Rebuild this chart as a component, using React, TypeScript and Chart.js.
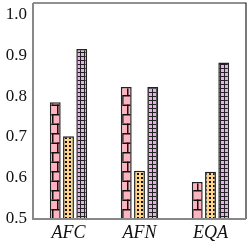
import React, { useEffect, useRef } from "react";
import { Chart, registerables } from "chart.js";

Chart.register(...registerables);

const categories = ["AFC", "AFN", "EQA"];
const seriesA = [0.785, 0.822, 0.59];
const seriesB = [0.702, 0.618, 0.615];
const seriesC = [0.915, 0.822, 0.882];
const yTicks = [0.5, 0.6, 0.7, 0.8, 0.9, 1.0];

function makePattern(kind: string, bg: string): CanvasPattern | string {
  const c = document.createElement("canvas");
  const ctx = c.getContext("2d");
  if (!ctx) return bg;
  if (kind === "brick") {
    c.width = 10;
    c.height = 19;
    ctx.fillStyle = bg;
    ctx.fillRect(0, 0, 10, 19);
    ctx.fillStyle = "#111";
    ctx.fillRect(0, 0, 10, 1.5);
    ctx.fillRect(0, 9.5, 10, 1.5);
    ctx.fillRect(2, 0, 1.5, 9.5);
    ctx.fillRect(7, 9.5, 1.5, 9.5);
  } else if (kind === "dots") {
    c.width = 4;
    c.height = 4;
    ctx.fillStyle = bg;
    ctx.fillRect(0, 0, 4, 4);
    ctx.fillStyle = "#111";
    ctx.fillRect(1, 1, 2, 2);
  } else {
    c.width = 4;
    c.height = 4;
    ctx.fillStyle = bg;
    ctx.fillRect(0, 0, 4, 4);
    ctx.fillStyle = "#222";
    ctx.fillRect(0, 0, 4, 1);
    ctx.fillRect(0, 0, 1, 4);
  }
  return ctx.createPattern(c, "repeat") || bg;
}

const framePlugin = {
  id: "frame",
  afterDraw(chart: any) {
    const { ctx, chartArea } = chart;
    ctx.save();
    ctx.strokeStyle = "#222";
    ctx.lineWidth = 1.2;
    ctx.beginPath();
    ctx.moveTo(chartArea.left, chartArea.top);
    ctx.lineTo(chartArea.right, chartArea.top);
    ctx.lineTo(chartArea.right, chartArea.bottom);
    ctx.stroke();
    ctx.strokeStyle = "#888";
    ctx.lineWidth = 2;
    ctx.beginPath();
    ctx.moveTo(chartArea.left, chartArea.top);
    ctx.lineTo(chartArea.left, chartArea.bottom);
    ctx.lineTo(chartArea.right, chartArea.bottom);
    ctx.stroke();
    ctx.restore();
  },
};

export default function App() {
  const ref = useRef<HTMLCanvasElement | null>(null);
  useEffect(() => {
    document.body.style.margin = "0";
    const canvas = ref.current;
    if (!canvas) return;
    const common = {
      borderColor: "#222",
      borderWidth: 1.5,
      categoryPercentage: 0.56,
      barPercentage: 0.82,
    };
    const chart = new Chart(canvas, {
      type: "bar",
      data: {
        labels: categories,
        datasets: [
          { data: seriesA, backgroundColor: makePattern("brick", "#ffb3bf"), ...common },
          { data: seriesB, backgroundColor: makePattern("dots", "#ffd486"), ...common },
          { data: seriesC, backgroundColor: makePattern("grid", "#e6b0e8"), ...common },
        ],
      },
      options: {
        animation: false,
        responsive: false,
        layout: { padding: { top: 3, right: 3, left: 0, bottom: 0 } },
        plugins: { legend: { display: false }, tooltip: { enabled: false } },
        scales: {
          x: {
            grid: { display: false, drawTicks: false },
            border: { display: false },
            ticks: {
              color: "#111",
              padding: 3,
              font: { family: "Liberation Serif", size: 18, style: "italic" },
            },
            afterFit(scale: any) {
              scale.height = 27;
              scale.paddingLeft = 0;
              scale.paddingRight = 0;
            },
          },
          y: {
            min: 0.5,
            max: 1.027,
            grid: { display: false, drawTicks: false },
            border: { display: false },
            afterBuildTicks(scale: any) {
              scale.ticks = yTicks.map((v) => ({ value: v }));
            },
            ticks: {
              color: "#111",
              padding: 6,
              font: { family: "Liberation Serif", size: 17 },
              callback: (v: any) => Number(v).toFixed(1),
            },
            afterFit(scale: any) {
              scale.width = 33;
              scale.paddingTop = 0;
              scale.paddingBottom = 0;
            },
          },
        },
      },
      plugins: [framePlugin],
    });
    return () => chart.destroy();
  }, []);
  return (
    <div style={{ width: 249, height: 246 }}>
      <canvas ref={ref} width={249} height={246} style={{ display: "block" }} />
    </div>
  );
}
